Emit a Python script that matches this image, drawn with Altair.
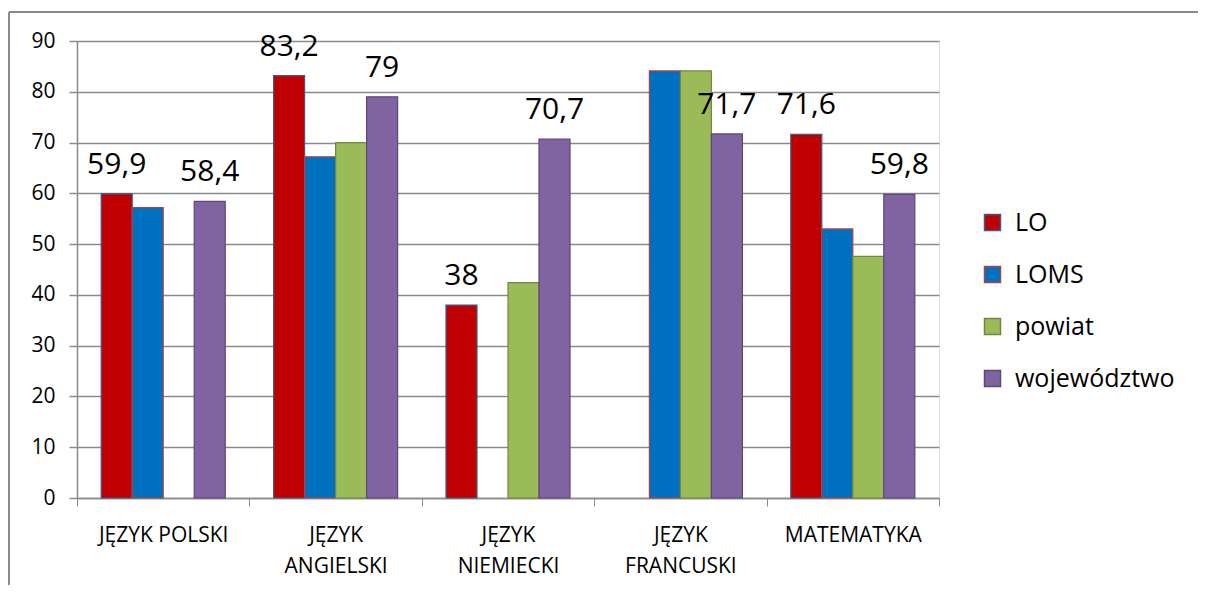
import altair as alt
import pandas as pd

categories = ["JĘZYK POLSKI", "JĘZYK ANGIELSKI", "JĘZYK NIEMIECKI", "JĘZYK FRANCUSKI", "MATEMATYKA"]
series_names = ["LO", "LOMS", "powiat", "województwo"]
lo = [59.9, 83.2, 38, None, 71.6]
loms = [57.2, 67.2, None, 84.1, 53.0]
powiat = [None, 70.0, 42.4, 84.1, 47.6]
wojewodztwo = [58.4, 79, 70.7, 71.7, 59.8]
labelled_series = ["LO", "województwo"]
y_ticks = list(range(0, 91, 10))

fills = ["#C00000", "#0070C0", "#9BBB59", "#8064A2"]
strokes = ["#385D8A", "#B3403C", "#71893F", "#5C4776"]
FONT = "Open Sans"
GRID = "#8A8A8A"

rows = []
for s, vals in zip(series_names, [lo, loms, powiat, wojewodztwo]):
    for c, v in zip(categories, vals):
        if v is not None:
            rows.append({"kategoria": c, "seria": s, "wartosc": v})
df = pd.DataFrame(rows)

x_enc = alt.X(
    "kategoria:N",
    sort=categories,
    scale=alt.Scale(paddingInner=0, paddingOuter=0),
    axis=alt.Axis(
        title=None,
        tickBand="extent",
        labelAngle=0,
        labelFontSize=21,
        labelFont=FONT,
        labelColor="#000000",
        labelPadding=18,
        labelLineHeight=31,
        labelExpr="length(datum.label) > 12 ? split(datum.label, ' ') : datum.label",
        tickSize=8,
        tickColor=GRID,
        domainColor=GRID,
        domainWidth=1.5,
        grid=False,
    ),
)
xoff_enc = alt.XOffset(
    "seria:N",
    sort=series_names,
    scale=alt.Scale(domain=series_names, paddingInner=0, paddingOuter=0.78),
)
y_enc = alt.Y(
    "wartosc:Q",
    scale=alt.Scale(domain=[0, 90], nice=False),
    axis=alt.Axis(
        title=None,
        values=y_ticks,
        labelFontSize=21,
        labelFont=FONT,
        labelColor="#000000",
        labelPadding=14,
        tickSize=8,
        tickColor=GRID,
        tickWidth=1.5,
        gridColor=GRID,
        gridWidth=1.5,
        domainColor=GRID,
        domainWidth=1.5,
    ),
)

legend = alt.Legend(
    title=None,
    orient="none",
    legendX=903,
    legendY=169,
    symbolType="square",
    symbolSize=256,
    symbolStrokeWidth=1.5,
    labelFontSize=25,
    labelFont=FONT,
    labelColor="#000000",
    labelOffset=10,
    rowPadding=26,
    padding=0,
)

bars = alt.Chart(df).mark_bar(strokeWidth=1.2).encode(
    x=x_enc,
    xOffset=xoff_enc,
    y=y_enc,
    fill=alt.Fill("seria:N", sort=series_names, scale=alt.Scale(domain=series_names, range=fills), legend=legend),
    stroke=alt.Stroke("seria:N", sort=series_names, scale=alt.Scale(domain=series_names, range=strokes), legend=legend),
)

labels = alt.Chart(df).transform_filter(
    alt.FieldOneOfPredicate(field="seria", oneOf=labelled_series)
).transform_calculate(
    etykieta="replace(toString(datum.wartosc), '.', ',')"
).mark_text(fontSize=30, font=FONT, baseline="alphabetic", dy=-20, color="#000000").encode(
    x=alt.X("kategoria:N", sort=categories),
    xOffset=alt.XOffset("seria:N", sort=series_names),
    y=alt.Y("wartosc:Q"),
    text="etykieta:N",
)

frame_df = pd.DataFrame({"k": [0]})
frame_left = alt.Chart(frame_df).mark_rule(color=GRID, strokeWidth=2).encode(
    x=alt.value(-68), y=alt.value(-29), y2=alt.value(700)
)
frame_top = alt.Chart(frame_df).mark_rule(color=GRID, strokeWidth=2).encode(
    x=alt.value(-68), x2=alt.value(1300), y=alt.value(-29)
)

chart = alt.layer(frame_left, frame_top, bars, labels).properties(
    width=862,
    height=457,
    autosize=alt.AutoSizeParams(type="none"),
    padding={"left": 69, "top": 33, "right": 259, "bottom": 87},
    background="#FFFFFF",
).configure_view(
    fill="#E6E6E6", stroke=None
).configure(
    font=FONT
)

chart.save("out.html", embed_options={"renderer": "svg", "actions": False})
